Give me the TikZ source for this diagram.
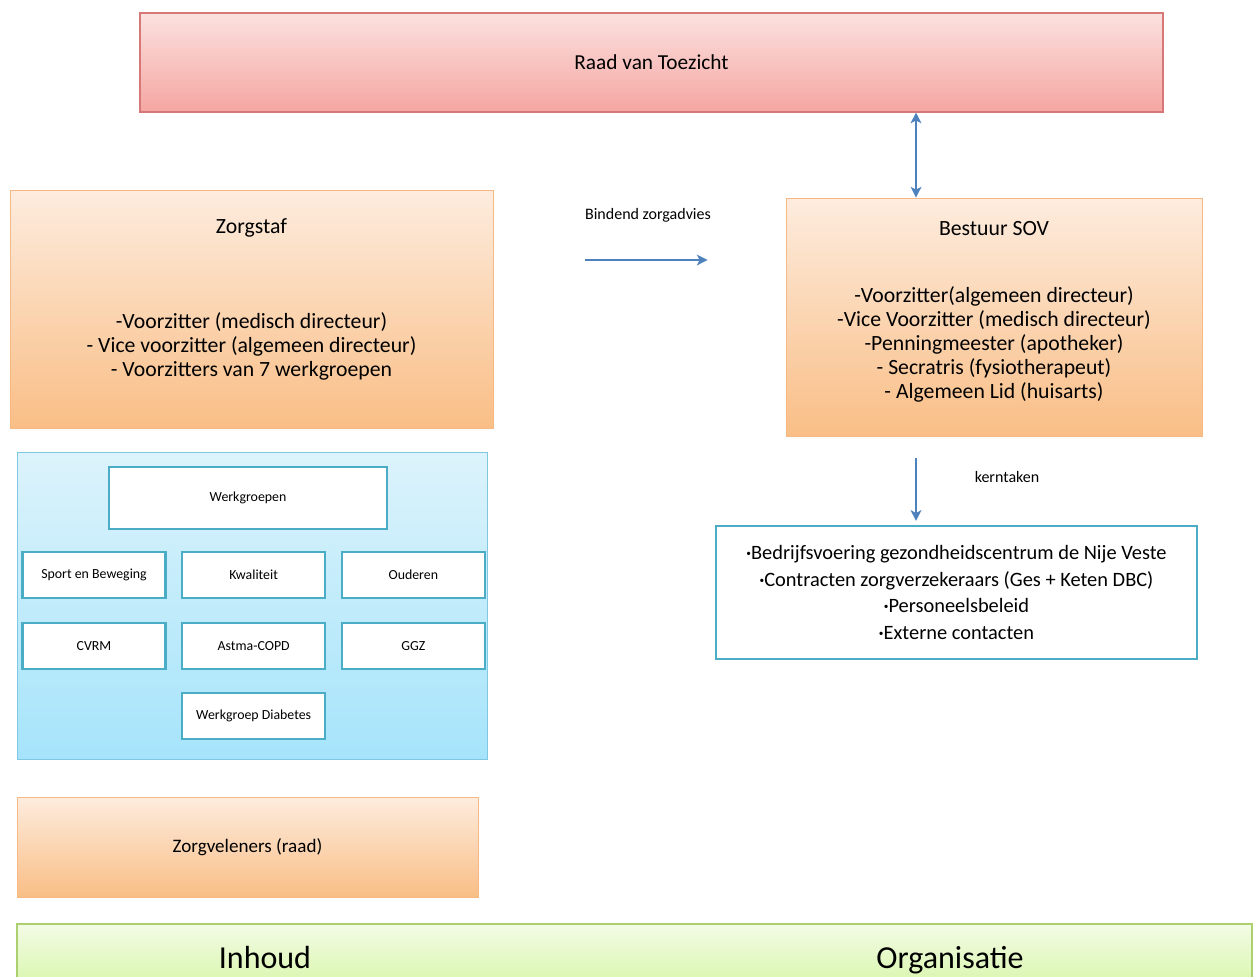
\documentclass[tikz,border=0pt]{standalone}
\usepackage{fontspec}
\setmainfont{Carlito}
\usetikzlibrary{arrows.meta,positioning,calc}
\definecolor{RoodTop}{RGB}{251,225,223}
\definecolor{RoodBodem}{RGB}{245,166,162}
\definecolor{RoodRand}{RGB}{214,120,120}
\definecolor{OranjeTop}{RGB}{253,236,222}
\definecolor{OranjeBodem}{RGB}{249,190,134}
\definecolor{OranjeRand}{RGB}{247,185,132}
\definecolor{BlauwTop}{RGB}{220,243,251}
\definecolor{BlauwBodem}{RGB}{166,228,251}
\definecolor{BlauwRand}{RGB}{128,200,225}
\definecolor{AquaRand}{RGB}{75,172,198}
\definecolor{GroenTop}{RGB}{243,251,230}
\definecolor{GroenBodem}{RGB}{215,246,168}
\definecolor{GroenRand}{RGB}{172,208,112}
\definecolor{PijlBlauw}{RGB}{79,129,189}
\newcommand{\kbul}{\raisebox{0.3ex}{\fontsize{7}{7}\selectfont\textbullet}}
\tikzset{
  raadbox/.style={draw=RoodRand, line width=0.8pt, top color=RoodTop, bottom color=RoodBodem,
    minimum width=#1, minimum height=74.25pt, inner sep=0pt, font=\fontsize{16}{19}\selectfont},
  raadbox/.default=767.25pt,
  orgbox/.style={draw=OranjeRand, line width=0.6pt, top color=OranjeTop, bottom color=OranjeBodem,
    minimum width=#1, inner sep=0pt},
  orgbox/.default=362.25pt,
  orgtekst/.style={align=center, font=\fontsize{16.3}{18}\selectfont, inner sep=0pt},
  panelbox/.style={draw=BlauwRand, line width=0.6pt, top color=BlauwTop, bottom color=BlauwBodem,
    minimum width=352.5pt, minimum height=230.25pt, inner sep=0pt},
  groepbox/.style={draw=AquaRand, line width=1.6pt, fill=white, minimum width=#1,
    minimum height=34.5pt, inner sep=0pt, font=\fontsize{10.4}{12}\selectfont},
  groepbox/.default=107.25pt,
  taakbox/.style={draw=AquaRand, line width=1.6pt, fill=white, align=center,
    minimum width=360.75pt, minimum height=99.75pt, inner sep=0pt, font=\fontsize{15.3}{20}\selectfont},
  balkbox/.style={draw=GroenRand, line width=0.8pt, top color=GroenTop, bottom color=GroenBodem},
  pijl/.style={-{Stealth[length=8pt, width=8pt, inset=2pt]}, line width=2pt, PijlBlauw},
  pijlbeide/.style={{Stealth[length=8pt, width=8pt, inset=2pt]}-{Stealth[length=8pt, width=8pt, inset=2pt]},
    line width=2pt, PijlBlauw},
  klein/.style={font=\fontsize{12}{14}\selectfont, inner sep=0pt},
  balktekst/.style={font=\fontsize{24}{28}\selectfont, anchor=base, inner sep=0pt},
}

\begin{document}
\begin{tikzpicture}[x=0.75pt, y=-0.75pt]
  \useasboundingbox (0,0) rectangle (1255,976);

  \node[raadbox] (raad) at (651.5,62.5) {Raad van Toezicht};

  % ---- linkerkant: inhoud ----
  \node[orgbox, minimum height=178.5pt] (zorgstaf) at (251.5,309) {};
  \node[orgtekst] (zorgstaftitel) at (251.5,228) {Zorgstaf};
  \node[orgtekst] (zorgstafleden) at (251.5,346)
    {-Voorzitter (medisch directeur)\\ - Vice voorzitter (algemeen directeur)\\ - Voorzitters van 7 werkgroepen};

  \node[panelbox] (panel) at (252,605.5) {};
  \node[groepbox=208.5pt, minimum height=46.5pt] (werkgroepen) at (248,498) {Werkgroepen};
  \node[groepbox] (sport) at (94,575) {Sport en Beweging};
  \node[groepbox, right=10.9pt of sport] (kwaliteit) {Kwaliteit};
  \node[groepbox, right=10.9pt of kwaliteit] (ouderen) {Ouderen};
  \node[groepbox, below=17pt of sport] (cvrm) {CVRM};
  \node[groepbox, below=17pt of kwaliteit] (astma) {Astma-COPD};
  \node[groepbox, below=17pt of ouderen] (ggz) {GGZ};
  \node[groepbox, below=16.5pt of astma] (diabetes) {Werkgroep Diabetes};

  \node[orgbox=345.75pt, minimum height=75pt, font=\fontsize{14.3}{16}\selectfont]
    (zorgveleners) at (247.5,847) {Zorgveleners (raad)};

  % ---- rechterkant: organisatie ----
  \node[orgbox=312pt, minimum height=178.5pt] (bestuur) at (994,317) {};
  \node[orgtekst] (bestuurtitel) at (994,229) {Bestuur SOV};
  \node[orgtekst] (bestuurleden) at (994,344.5)
    {-Voorzitter(algemeen directeur)\\ -Vice Voorzitter (medisch directeur)\\ -Penningmeester (apotheker)\\
     - Secratris (fysiotherapeut)\\ - Algemeen Lid (huisarts)};

  \node[taakbox] (taken) at (956.5,592.5)
    {\kbul Bedrijfsvoering gezondheidscentrum de Nije Veste\\ \kbul Contracten zorgverzekeraars (Ges + Keten DBC)\\
     \kbul Personeelsbeleid\\ \kbul Externe contacten};

  \coordinate (as) at (916,0);
  \coordinate (advies) at (0,260);
  \draw[pijlbeide] (as |- raad.south) -- (as |- bestuur.north);
  \draw[pijl, shorten <=69pt, shorten >=58.5pt] (zorgstaf.east |- advies) -- (bestuur.west |- advies);
  \node[klein] (bindend) at (648,215) {Bindend zorgadvies};
  \draw[pijl, shorten <=16.5pt, shorten >=3pt] (as |- bestuur.south) -- (as |- taken.north);
  \node[klein] (kerntaken) at (1007,477) {kerntaken};

  % ---- balk onderaan ----
  \draw[balkbox] (17,924) rectangle (1252,990);
  \node[balktekst] (inhoud) at (265,968) {Inhoud};
  \node[balktekst] (organisatie) at (950,968) {Organisatie};
\end{tikzpicture}
\end{document}
